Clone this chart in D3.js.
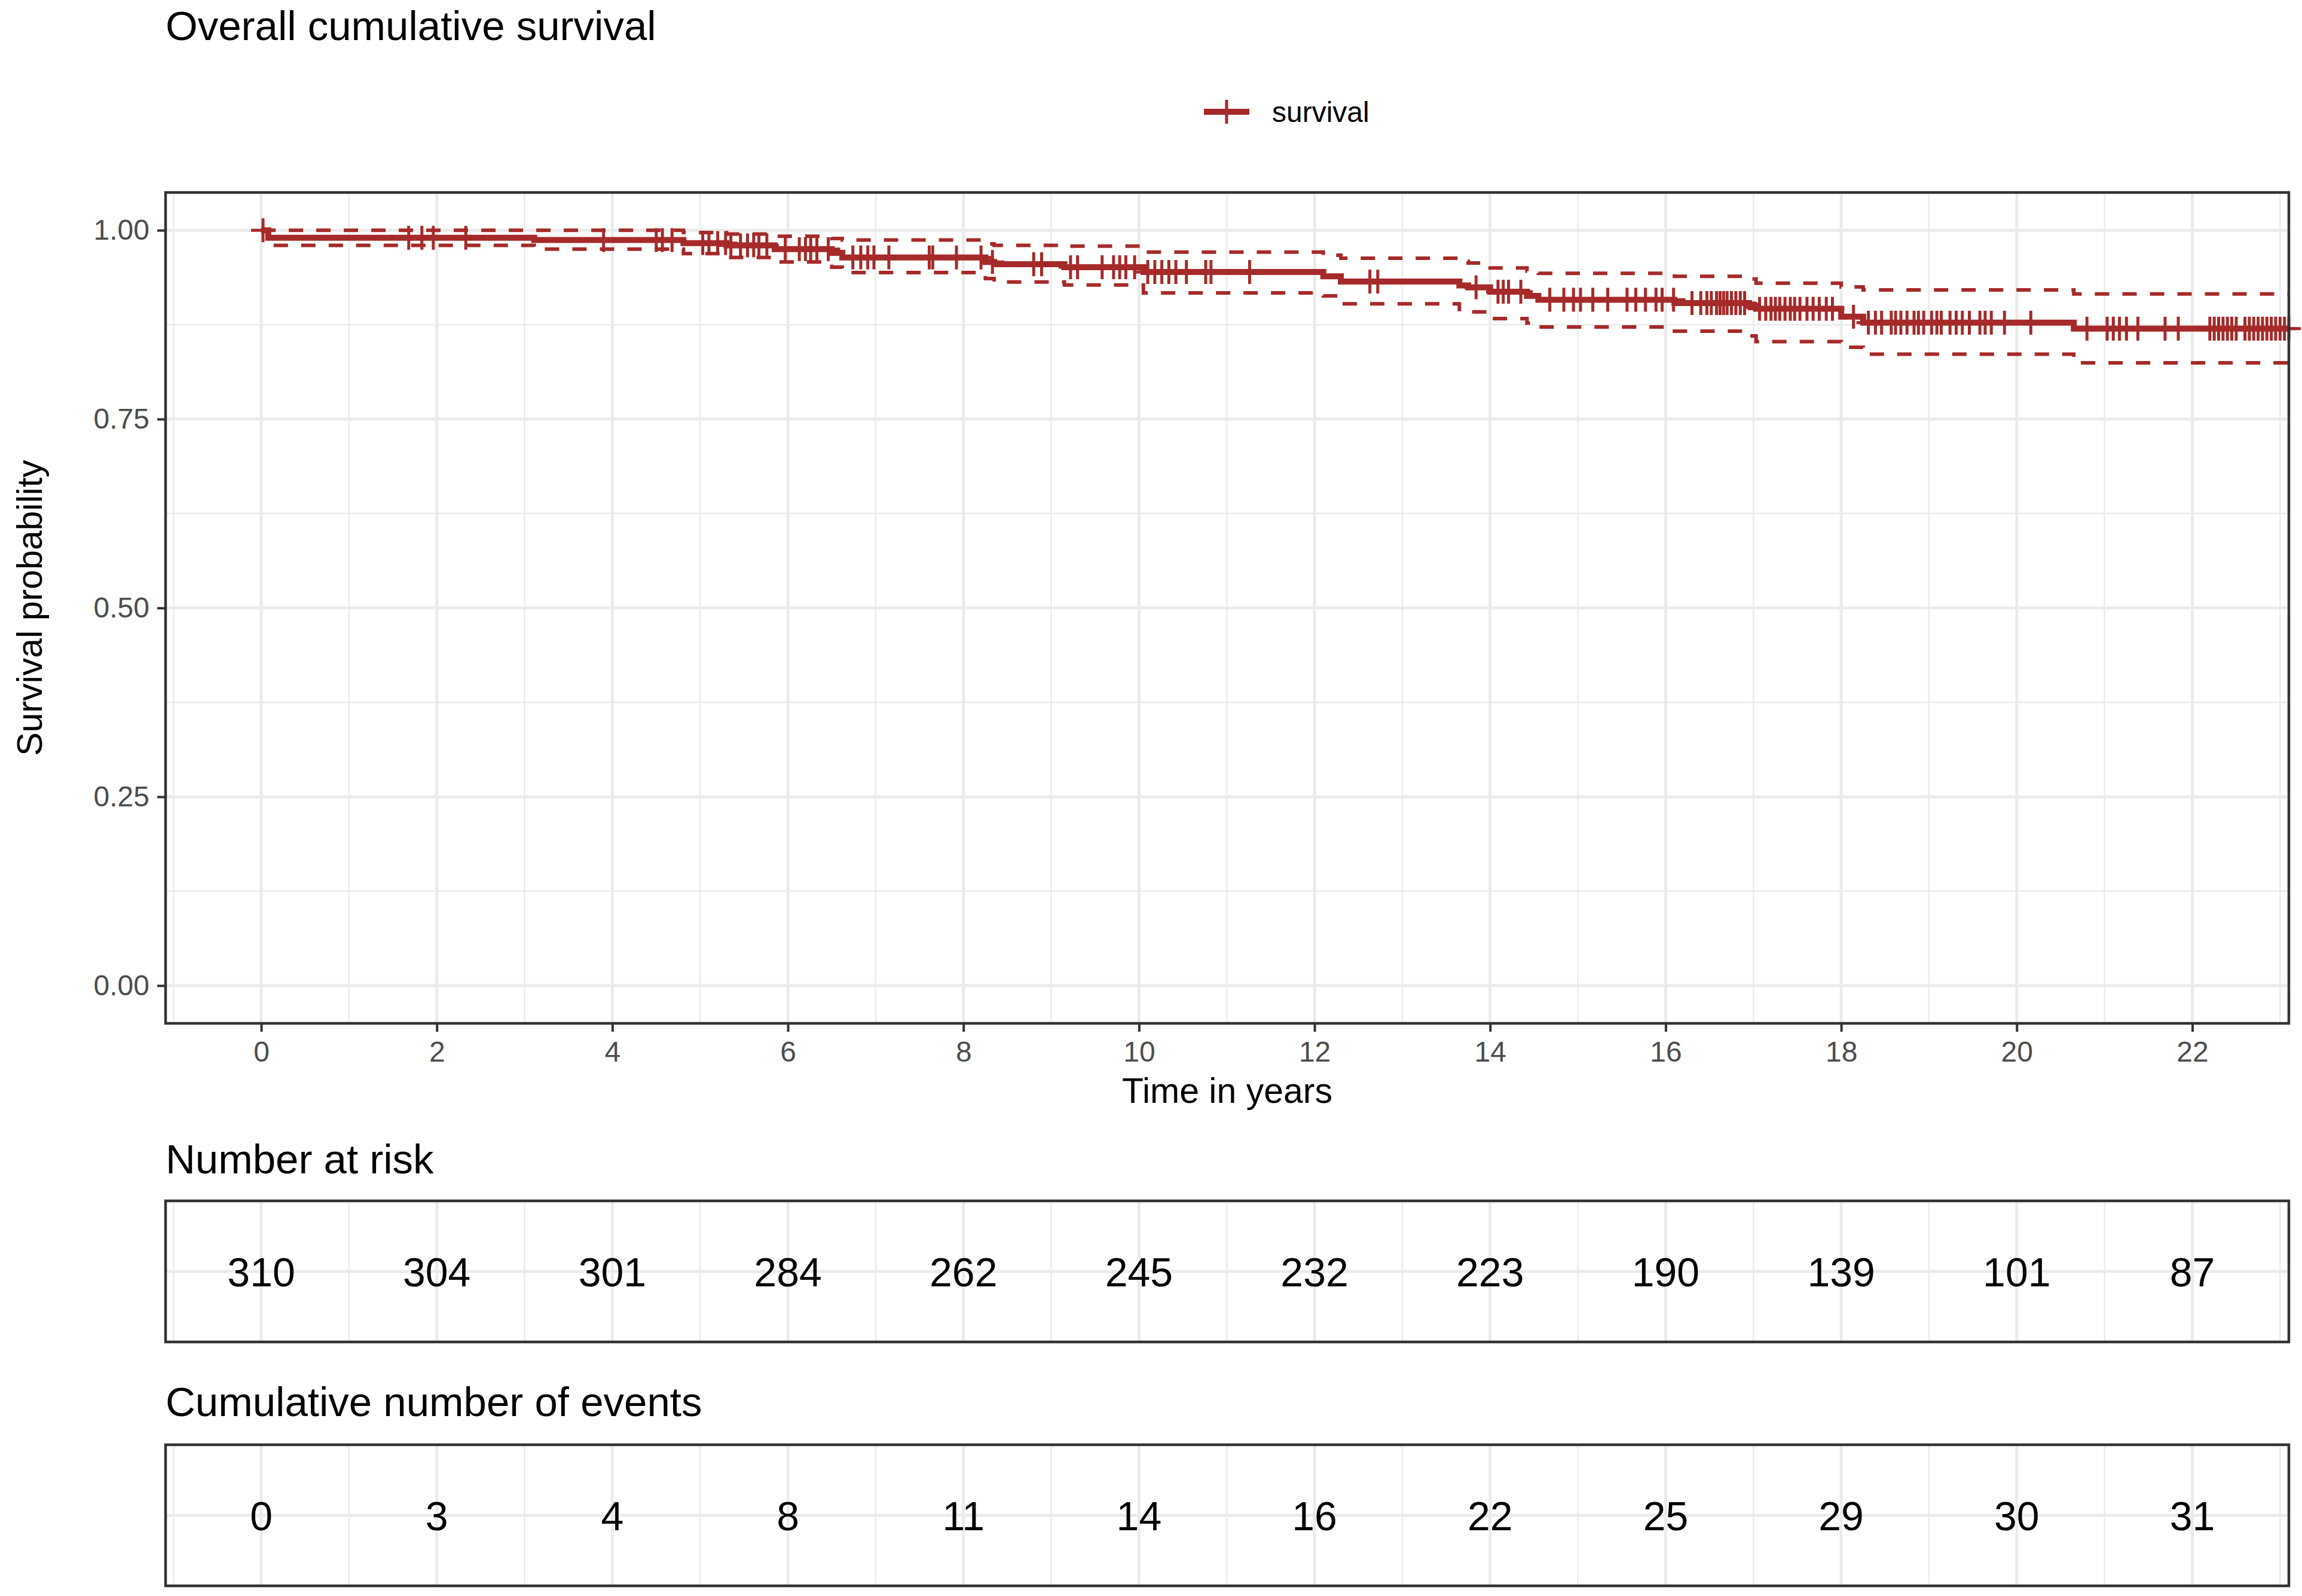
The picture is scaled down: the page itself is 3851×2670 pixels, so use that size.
<!DOCTYPE html>
<html>
<head>
<meta charset="utf-8">
<script src="https://cdn.jsdelivr.net/npm/d3@7"></script>
<style>
  body { margin: 0; background: #fff; }
  text { font-family: "Liberation Sans", Arial, Helvetica, sans-serif; }
</style>
</head>
<body>
<div id="chart"></div>
<script>
// Kaplan-Meier steps: time, survival, lower and upper CI
const stepTime = [0, 0.08, 3.11, 4.81, 5.30, 5.85, 6.50, 6.62, 8.25, 8.35, 9.15, 10.05,
                  12.10, 12.30, 13.65, 13.75, 14.00, 14.42, 14.55, 16.10, 16.95, 17.03,
                  18.00, 18.25, 20.65];
const survival = [1, 0.990, 0.987, 0.983, 0.980, 0.975, 0.970, 0.964, 0.958, 0.955, 0.951, 0.9447,
                  0.939, 0.932, 0.927, 0.9244, 0.9186, 0.913, 0.908, 0.9036, 0.900, 0.896,
                  0.8855, 0.8776, 0.8697];
const lowerCI  = [1, 0.980, 0.975, 0.969, 0.964, 0.958, 0.951, 0.944, 0.936, 0.9315, 0.9276, 0.917,
                  0.913, 0.9026, 0.895, 0.892, 0.883, 0.877, 0.872, 0.8665, 0.860, 0.8525,
                  0.845, 0.836, 0.8244];
const upperCI  = [1, 1.000, 1.000, 0.997, 0.995, 0.992, 0.989, 0.987, 0.982, 0.980, 0.979, 0.971,
                  0.967, 0.963, 0.959, 0.9566, 0.950, 0.946, 0.943, 0.939, 0.9355, 0.930,
                  0.925, 0.921, 0.9157];
const lastTime = 23.1;

// censored observations (tick marks)
const censorTime = [0.02, 1.68, 1.83, 1.96, 2.33, 3.90, 4.50, 4.57, 4.68, 5.03, 5.10, 5.20, 5.29,
  5.35, 5.46, 5.54, 5.61, 5.67, 5.76, 5.97, 6.13, 6.20, 6.26, 6.33, 6.46, 6.74, 6.83, 6.91,
  6.98, 7.15, 7.61, 7.65, 7.92, 8.20, 8.33, 8.80, 8.89, 9.22, 9.30, 9.58, 9.71, 9.78, 9.85,
  9.95, 10.10, 10.18, 10.26, 10.34, 10.42, 10.54, 10.76, 10.82, 11.26, 12.63, 12.72, 13.84,
  14.09, 14.15, 14.21, 14.35, 14.68, 14.84, 14.95, 15.03, 15.17, 15.34, 15.56, 15.66, 15.77,
  15.89, 15.96, 16.09, 16.30, 16.40, 16.47, 16.52, 16.58, 16.62, 16.66, 16.70, 16.75, 16.80,
  16.85, 16.90, 17.07, 17.14, 17.20, 17.25, 17.30, 17.36, 17.42, 17.47, 17.53, 17.61, 17.68,
  17.75, 17.83, 17.90, 18.14, 18.31, 18.39, 18.46, 18.57, 18.62, 18.68, 18.75, 18.83, 18.88,
  18.94, 19.03, 19.09, 19.14, 19.24, 19.31, 19.38, 19.46, 19.58, 19.64, 19.71, 19.86, 20.16,
  20.80, 21.03, 21.10, 21.17, 21.25, 21.38, 21.69, 21.84, 22.20, 22.25, 22.30, 22.35, 22.40,
  22.45, 22.50, 22.60, 22.65, 22.70, 22.75, 22.80, 22.85, 22.90, 22.95, 23.00, 23.05, 23.10];

// risk table
const riskTime = [0, 2, 4, 6, 8, 10, 12, 14, 16, 18, 20, 22];
const nRisk = [310, 304, 301, 284, 262, 245, 232, 223, 190, 139, 101, 87];
const nEvents = [0, 3, 4, 8, 11, 14, 16, 22, 25, 29, 30, 31];

const xTickVals = [0, 2, 4, 6, 8, 10, 12, 14, 16, 18, 20, 22];
const xMinorVals = [-1, 1, 3, 5, 7, 9, 11, 13, 15, 17, 19, 21, 23];
const yTickVals = [0, 0.25, 0.5, 0.75, 1];
const yMinorVals = [0.125, 0.375, 0.625, 0.875];

const width = 3851, height = 2670;
const panel = {left: 277, right: 3829, top: 322, bottom: 1712};
const red = "#a62a2a";
const gridCol = "#ebebeb";
const borderCol = "#333333";

const svg = d3.select("#chart").append("svg")
  .attr("width", width).attr("height", height)
  .attr("viewBox", [0, 0, width, height]);
svg.append("rect").attr("width", width).attr("height", height).attr("fill", "#fff");

const x = d3.scaleLinear().domain([-1.09, 23.1]).range([panel.left, panel.right]);
const y = d3.scaleLinear().domain([-0.05, 1.05]).range([panel.bottom, panel.top]);

// vertical grid lines, shared by main panel and the two tables
function vGrid(g, top, bottom) {
  g.selectAll(".vminor").data(xMinorVals).enter().append("line")
    .attr("x1", d => x(d)).attr("x2", d => x(d))
    .attr("y1", top).attr("y2", bottom)
    .attr("stroke", gridCol).attr("stroke-width", 2.5);
  g.selectAll(".vmajor").data(xTickVals).enter().append("line")
    .attr("x1", d => x(d)).attr("x2", d => x(d))
    .attr("y1", top).attr("y2", bottom)
    .attr("stroke", gridCol).attr("stroke-width", 5);
}

/* main panel */
const main = svg.append("g");
main.selectAll(".hminor").data(yMinorVals).enter().append("line")
  .attr("x1", panel.left).attr("x2", panel.right)
  .attr("y1", d => y(d)).attr("y2", d => y(d))
  .attr("stroke", gridCol).attr("stroke-width", 2.5);
main.selectAll(".hmajor").data(yTickVals).enter().append("line")
  .attr("x1", panel.left).attr("x2", panel.right)
  .attr("y1", d => y(d)).attr("y2", d => y(d))
  .attr("stroke", gridCol).attr("stroke-width", 5);
vGrid(main, panel.top, panel.bottom);

const pts = stepTime.map((t, i) => ({t: t, s: survival[i], lo: lowerCI[i], up: upperCI[i]}));
pts.push(Object.assign({}, pts[pts.length - 1], {t: lastTime}));

const stepLine = key => d3.line()
  .x(d => x(d.t)).y(d => y(d[key]))
  .curve(d3.curveStepAfter);

["lo", "up"].forEach(k => {
  main.append("path").datum(pts)
    .attr("d", stepLine(k))
    .attr("fill", "none").attr("stroke", red)
    .attr("stroke-width", 6).attr("stroke-dasharray", "24,22");
});
main.append("path").datum(pts)
  .attr("d", stepLine("s"))
  .attr("fill", "none").attr("stroke", red)
  .attr("stroke-width", 10);

// censor marks sit on the curve
const survAt = t => survival[d3.bisectRight(stepTime, t) - 1];
const marks = main.selectAll(".cens").data(censorTime).enter().append("g")
  .attr("transform", d => `translate(${x(d)},${y(survAt(d))})`);
marks.append("line").attr("x1", 0).attr("x2", 0).attr("y1", -20).attr("y2", 20)
  .attr("stroke", red).attr("stroke-width", 5);
marks.append("line").attr("x1", -20).attr("x2", 20).attr("y1", 0).attr("y2", 0)
  .attr("stroke", red).attr("stroke-width", 5);

main.append("rect")
  .attr("x", panel.left).attr("y", panel.top)
  .attr("width", panel.right - panel.left).attr("height", panel.bottom - panel.top)
  .attr("fill", "none").attr("stroke", borderCol).attr("stroke-width", 4.5);

/* axes */
const yAxis = svg.append("g")
  .attr("transform", `translate(${panel.left},0)`)
  .call(d3.axisLeft(y).tickValues(yTickVals).tickFormat(d3.format(".2f"))
    .tickSize(14).tickPadding(13));
const xAxis = svg.append("g")
  .attr("transform", `translate(0,${panel.bottom})`)
  .call(d3.axisBottom(x).tickValues(xTickVals).tickSize(14).tickPadding(16));
[xAxis, yAxis].forEach(a => {
  a.select(".domain").remove();
  a.selectAll(".tick line").attr("stroke", borderCol).attr("stroke-width", 4);
  a.selectAll(".tick text").attr("fill", "#4d4d4d").attr("font-size", 48)
    .attr("font-family", '"Liberation Sans", Arial, Helvetica, sans-serif');
});

svg.append("text").attr("x", panel.left).attr("y", 67)
  .attr("font-size", 69).text("Overall cumulative survival");
svg.append("text").attr("x", (panel.left + panel.right) / 2).attr("y", 1845)
  .attr("text-anchor", "middle").attr("font-size", 59).text("Time in years");
svg.append("text")
  .attr("transform", `translate(70,${(panel.top + panel.bottom) / 2}) rotate(-90)`)
  .attr("text-anchor", "middle").attr("font-size", 59).text("Survival probability");

/* legend */
const leg = svg.append("g").attr("transform", "translate(2052,187)");
leg.append("line").attr("x1", -38).attr("x2", 38).attr("y1", 0).attr("y2", 0)
  .attr("stroke", red).attr("stroke-width", 10);
leg.append("line").attr("x1", 0).attr("x2", 0).attr("y1", -20).attr("y2", 20)
  .attr("stroke", red).attr("stroke-width", 5);
leg.append("text").attr("x", 76).attr("y", 17).attr("font-size", 48).text("survival");

/* tables */
function riskTable(title, titleY, top, bottom, values) {
  const g = svg.append("g");
  g.append("text").attr("x", panel.left).attr("y", titleY)
    .attr("font-size", 69).text(title);
  vGrid(g, top, bottom);
  const mid = (top + bottom) / 2;
  g.append("line").attr("x1", panel.left).attr("x2", panel.right)
    .attr("y1", mid).attr("y2", mid)
    .attr("stroke", gridCol).attr("stroke-width", 5);
  g.selectAll(".val").data(values).enter().append("text")
    .attr("x", (d, i) => x(riskTime[i])).attr("y", mid + 25)
    .attr("text-anchor", "middle").attr("font-size", 68)
    .text(d => d);
  g.append("rect")
    .attr("x", panel.left).attr("y", top)
    .attr("width", panel.right - panel.left).attr("height", bottom - top)
    .attr("fill", "none").attr("stroke", borderCol).attr("stroke-width", 4.5);
}
riskTable("Number at risk", 1963, 2009, 2245, nRisk);
riskTable("Cumulative number of events", 2369, 2417, 2653, nEvents);
</script>
</body>
</html>
